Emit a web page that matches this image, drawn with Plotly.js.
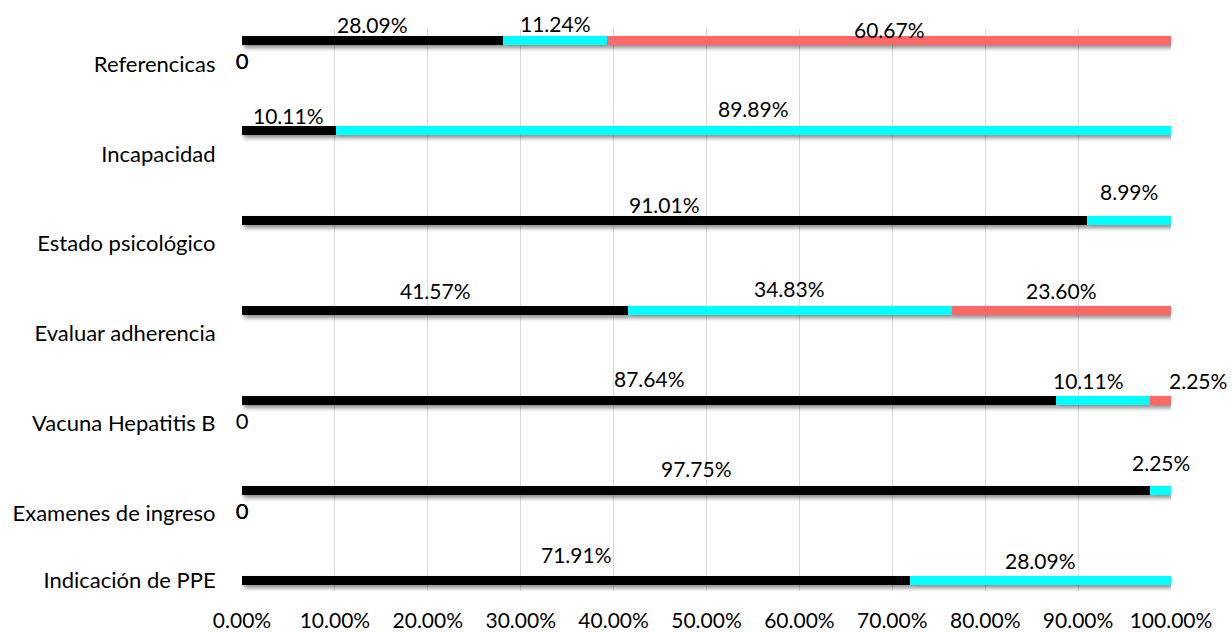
<!DOCTYPE html>
<html>
<head>
<meta charset="utf-8">
<script src="https://cdn.plot.ly/plotly-3.0.1.min.js"></script>
<style>
html,body{margin:0;padding:0;background:#fff}
#chart{width:1231px;height:632px}
.barlayer .point path{filter:drop-shadow(2px 3px 2px rgba(0,0,0,0.45))}
</style>
</head>
<body>
<div id="chart"></div>
<script>
// Categories, bottom to top
const categories = ["Indicación de PPE", "Examenes de ingreso", "Vacuna Hepatitis B", "Evaluar adherencia", "Estado psicológico", "Incapacidad", "Referencicas"];
// Series values (percent)
const serie1 = [71.91, 97.75, 87.64, 41.57, 91.01, 10.11, 28.09];
const serie2 = [28.09, 2.25, 10.11, 34.83, 8.99, 89.89, 11.24];
const serie3 = [0, 0, 2.25, 23.60, 0, 0, 60.67];
// Zero labels shown next to category names (count of overlapping "0" labels)
const zeroLabelCount = [0, 2, 1, 0, 0, 0, 2];
const xTickVals = [0, 0.1, 0.2, 0.3, 0.4, 0.5, 0.6, 0.7, 0.8, 0.9, 1.0];

// ---- styling ----
const colors = ["#000000", "#00FFFF", "#FF6666"];
const series = [serie1, serie2, serie3];
const FONT = "Lato, 'Open Sans', sans-serif";
const NUM_SIZE = 21, CAT_SIZE = 22;
// Label placement tweaks (pixels): [lift above bar, horizontal nudge], keyed "category|series"
const LABEL_NUDGE = {
  "6|0": [16, 0], "6|1": [17, 0], "6|2": [11, 0],
  "5|0": [15, 0], "5|1": [22, 0],
  "4|0": [15.5, 0], "4|1": [29, 0],
  "3|0": [19.5, 0], "3|1": [22, 0], "3|2": [19.5, 0],
  "2|0": [21.5, 0], "2|1": [20, -15], "2|2": [20, 37],
  "1|0": [21.5, 0], "1|1": [28, 0],
  "0|0": [25.5, 0], "0|1": [20, 0]
};

const pos = categories.map((c, i) => i);

const traces = series.map((s, k) => ({
  type: "bar", orientation: "h",
  x: s.map(v => v / 100), y: pos,
  width: 0.1,
  marker: {color: colors[k], line: {width: 0}},
  hoverinfo: "none", showlegend: false
}));

// Category labels: offset below bar (except bottom one)
const labelPos = pos.map(i => i === 0 ? 0 : i - 0.26);

// Zero labels
const zx = [], zy = [], zx2 = [], zy2 = [];
zeroLabelCount.forEach((n, i) => {
  if (n >= 1) { zx.push(0); zy.push(labelPos[i]); }
  if (n >= 2) { zx2.push(0); zy2.push(labelPos[i]); }
});
[[zx, zy], [zx2, zy2]].forEach(([xx, yy]) => traces.push({
  type: "scatter", mode: "text", x: xx, y: yy,
  text: xx.map(() => "0"), textposition: "middle center",
  textfont: {family: FONT, size: CAT_SIZE, color: "#000"},
  cliponaxis: false, hoverinfo: "none", showlegend: false
}));

// Data labels
const annotations = [];
categories.forEach((c, i) => {
  let cum = 0;
  series.forEach((s, k) => {
    const v = s[i];
    if (v > 0) {
      const nudge = LABEL_NUDGE[i + "|" + k] || [18, 0];
      annotations.push({
        x: (cum + v / 2) / 100, y: i, xref: "x", yref: "y",
        text: v.toFixed(2) + "%", showarrow: false,
        yshift: nudge[0], xshift: nudge[1],
        font: {family: FONT, size: NUM_SIZE, color: "#000"}
      });
    }
    cum += v;
  });
});

const layout = {
  width: 1231, height: 632,
  margin: {l: 242, r: 60, t: 29, b: 41},
  paper_bgcolor: "#fff", plot_bgcolor: "#fff",
  barmode: "stack",
  showlegend: false,
  xaxis: {
    range: [0, 1], tickvals: xTickVals, tickformat: ".2%",
    showgrid: true, gridcolor: "#D9D9D9", gridwidth: 1,
    zeroline: false, showline: false,
    ticks: "outside", ticklen: 11, tickcolor: "rgba(0,0,0,0)",
    tickfont: {family: FONT, size: NUM_SIZE, color: "#000"},
    fixedrange: true
  },
  yaxis: {
    range: [-0.122, 6.128],
    tickvals: labelPos, ticktext: categories,
    showgrid: false, zeroline: false, showline: false,
    ticks: "outside", ticklen: 21, tickcolor: "rgba(0,0,0,0)",
    tickfont: {family: FONT, size: CAT_SIZE, color: "#000"},
    fixedrange: true
  },
  annotations: annotations
};

Plotly.newPlot("chart", traces, layout, {displayModeBar: false, staticPlot: true});
</script>
</body>
</html>
